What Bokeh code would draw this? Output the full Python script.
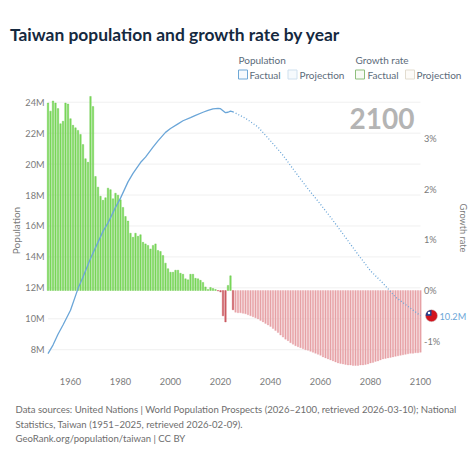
from bokeh.plotting import figure
from bokeh.models import Range1d, FixedTicker, Label, BoxAnnotation, PrintfTickFormatter, LinearAxis
from bokeh.embed import file_html
from bokeh.resources import INLINE
import math

TITLE = "Taiwan population and growth rate by year"
FOOT = ["Data sources: United Nations | World Population Prospects (2026\u20132100, retrieved 2026-03-10); National",
        "Statistics, Taiwan (1951\u20132025, retrieved 2026-02-09).",
        "GeoRank.org/population/taiwan | CC BY"]

growth_factual_years = list(range(1951, 2026))
growth_factual = [3.70, 3.54, 3.74, 3.70, 3.59, 3.29, 3.34, 3.70, 3.68, 3.39,
                  3.26, 3.21, 3.16, 3.08, 2.88, 2.60, 2.53, 3.83, 3.63, 2.25,
                  2.04, 1.86, 1.78, 1.83, 2.02, 1.99, 1.81, 1.92, 1.88, 1.79,
                  1.64, 1.46, 1.37, 1.13, 1.05, 1.13, 1.07, 1.10, 0.95, 0.92,
                  0.89, 0.82, 0.89, 0.92, 0.79, 0.77, 0.69, 0.54, 0.43, 0.36,
                  0.36, 0.40, 0.40, 0.34, 0.32, 0.23, 0.21, 0.32, 0.32, 0.24,
                  0.23, 0.20, 0.16, 0.07, 0.02, 0.06, 0.04, 0.02, -0.01, -0.03,
                  -0.50, -0.62, 0.10, 0.29, -0.38]
growth_proj_years = list(range(2026, 2101))
growth_proj = [-0.43, -0.44, -0.44, -0.45, -0.46, -0.48, -0.50, -0.52, -0.54, -0.56,
               -0.59, -0.62, -0.65, -0.68, -0.71, -0.75, -0.79, -0.83, -0.88, -0.92,
               -0.96, -0.99, -1.03, -1.06, -1.09, -1.11, -1.13, -1.15, -1.17, -1.18,
               -1.20, -1.22, -1.24, -1.26, -1.28, -1.31, -1.33, -1.35, -1.37, -1.39,
               -1.41, -1.43, -1.44, -1.45, -1.46, -1.47, -1.47, -1.48, -1.48, -1.48,
               -1.47, -1.47, -1.46, -1.45, -1.43, -1.42, -1.40, -1.39, -1.37, -1.35,
               -1.34, -1.33, -1.32, -1.31, -1.30, -1.29, -1.28, -1.27, -1.26, -1.25,
               -1.24, -1.24, -1.23, -1.23, -1.22]

pop_factual_years = [1951, 1953, 1955, 1957, 1960, 1963, 1965, 1968, 1970, 1973, 1975, 1978, 1980,
                     1983, 1985, 1988, 1990, 1993, 1995, 1998, 2000, 2003, 2005, 2008, 2010, 2013,
                     2015, 2017, 2019, 2020, 2021, 2022, 2023, 2024, 2025]
pop_factual = [7.75, 8.3, 9.0, 9.6, 10.55, 11.95, 12.7, 13.9, 14.6, 15.65, 16.2, 17.2, 17.8,
               18.85, 19.4, 20.1, 20.45, 21.1, 21.5, 22.05, 22.3, 22.6, 22.8, 23.0, 23.15, 23.35,
               23.47, 23.57, 23.6, 23.58, 23.45, 23.32, 23.35, 23.42, 23.38]
pop_proj_years = [2025, 2030, 2035, 2040, 2045, 2050, 2055, 2060, 2065, 2070, 2075, 2080, 2085, 2090, 2095, 2100]
pop_proj = [23.38, 22.96, 22.4, 21.5, 20.57, 19.47, 18.4, 17.4, 16.36, 15.26, 14.16, 13.1, 12.3, 11.4, 10.8, 10.2]

year_ticks = [1960, 1980, 2000, 2020, 2040, 2060, 2080, 2100]
pop_ticks = [8, 10, 12, 14, 16, 18, 20, 22, 24]
rate_ticks = [-1, 0, 1, 2, 3]

OFF = 0
SIZE = 474
GREY = "#7a7a7a"
BLUE = "#6ba6d8"
NAVY = "#15293f"

x0 = 1960 - (70 - OFF) / 2.5
py_top = 24 + (101.7 - OFF) / 15.47
py_bot = 24 - (OFF + SIZE - 101.7) / 15.47
ry_top = (290 - OFF) / 50.67
ry_bot = (290 - OFF - SIZE) / 50.67

p = figure(width=SIZE, height=SIZE, output_backend="svg", toolbar_location=None,
           x_range=Range1d(x0, x0 + SIZE / 2.5), y_range=Range1d(py_bot, py_top),
           x_axis_type=None, y_axis_type=None,
           min_border_left=0, min_border_right=0, min_border_top=0, min_border_bottom=0)
p.extra_y_ranges = {"rate": Range1d(ry_bot, ry_top)}
p.outline_line_color = None
p.background_fill_color = "white"
p.grid.visible = False


def style(ax, standoff):
    ax.axis_line_color = None
    ax.major_tick_line_color = None
    ax.minor_tick_line_color = None
    ax.major_tick_out = 0
    ax.major_tick_in = 0
    ax.major_label_text_font = "Lato"
    ax.major_label_text_font_size = "9.2px"
    ax.major_label_text_color = GREY
    ax.major_label_standoff = standoff


xa = LinearAxis(fixed_location=24 - (373.5 - 101.7) / 15.47, ticker=FixedTicker(ticks=year_ticks))
style(xa, 4)
p.add_layout(xa, "below")

ya = LinearAxis(fixed_location=1960 - 24 / 2.5, ticker=FixedTicker(ticks=pop_ticks),
                formatter=PrintfTickFormatter(format="%dM"))
style(ya, 2)
p.add_layout(ya, "left")

ra = LinearAxis(fixed_location=2101, y_range_name="rate", ticker=FixedTicker(ticks=rate_ticks),
                formatter=PrintfTickFormatter(format="%d%%"))
style(ra, 1)
p.add_layout(ra, "right")

p.segment(x0=[1951] * len(pop_ticks), x1=[2100] * len(pop_ticks), y0=pop_ticks, y1=pop_ticks,
          line_color="#f0f0f0", line_width=1)

W = 0.58
gf_pos = [(y, v) for y, v in zip(growth_factual_years, growth_factual) if v >= 0]
gf_neg = [(y, v) for y, v in zip(growth_factual_years, growth_factual) if v < 0]
p.vbar(x=[a for a, _ in gf_pos], top=[b for _, b in gf_pos], bottom=0, width=W,
       fill_color="#7edb5e", line_color="#63c645", line_width=0.4, y_range_name="rate")
p.vbar(x=[a for a, _ in gf_neg], top=[b for _, b in gf_neg], bottom=0, width=W,
       fill_color="#cf5f66", line_color="#c44f57", line_width=0.4, y_range_name="rate")
p.vbar(x=growth_proj_years, top=growth_proj, bottom=0, width=W,
       fill_color="#e9a4a8", line_color="#e39a9f", line_width=0.3, y_range_name="rate")

p.line(pop_factual_years, pop_factual, line_color=BLUE, line_width=1.3)
p.line(pop_proj_years, pop_proj, line_color=BLUE, line_width=1.3, line_dash=[1, 2])

# end-of-line flag marker
flag_x, flag_y = [2104.4], [pop_proj[-1]]
p.scatter(flag_x, flag_y, size=12, fill_color="#d2141e", line_color="#c8c8c8", line_width=0.5)
p.wedge(x=flag_x, y=flag_y, radius=5.8, radius_units="screen", start_angle=math.pi / 2,
        end_angle=math.pi, fill_color="#21408f", line_color=None)
p.scatter(x=[flag_x[0] - 1.0], y=[flag_y[0] + 0.17], size=2.5, fill_color="white", line_color=None)


def lab(text, x, y, size, color=GREY, style="normal", align="left", angle=0):
    p.add_layout(Label(x=x - OFF, y=OFF + SIZE - y, x_units="screen", y_units="screen", text=text,
                       text_font="Lato", text_font_size=f"{size}px", text_color=color,
                       text_font_style=style, text_align=align, text_baseline="middle",
                       angle=angle))


def box(x0, x1, y0, y1, fill, line):
    p.add_layout(BoxAnnotation(left=x0 - OFF, right=x1 - OFF, bottom=OFF + SIZE - y1, top=OFF + SIZE - y0,
                               left_units="screen", right_units="screen",
                               top_units="screen", bottom_units="screen",
                               fill_color=fill, fill_alpha=1, line_color=line, line_width=1,
                               line_alpha=1))


lab(TITLE, 9.5, 34, 17.4, NAVY, "bold")
lab("Population", 15.5, 230, 10, GREY, align="center", angle=math.pi / 2)
lab("10.2M", 439, 315.5, 9.2, BLUE)
lab("2100", 414, 118, 28, "#b4b4b4", "bold", "right")
lab("Growth rate", 462.7, 227.5, 9.2, GREY, align="center", angle=-math.pi / 2)

lab("Population", 238, 59, 10, "#5c6b7a")
lab("Growth rate", 355, 59, 10, "#5c6b7a")
for txt, x in [("Factual", 249), ("Projection", 299), ("Factual", 367), ("Projection", 416)]:
    lab(txt, x, 74, 10, "#5c6b7a")
box(238, 247, 69.5, 78.5, "#f6fafd", "#6fa8d6")
box(287.5, 296.5, 69.5, 78.5, "#f6fafd", "#cfe0ee")
box(355, 364, 69.5, 78.5, "#f8fbf5", "#8fbf7c")
box(405, 414, 69.5, 78.5, "#fdfbf8", "#e2dccf")

for i, line in enumerate(FOOT):
    lab(line, 15, 409 + i * 14.5, 9.57, "#6e6e6e")

open("out.html", "w").write(file_html(p, INLINE))
